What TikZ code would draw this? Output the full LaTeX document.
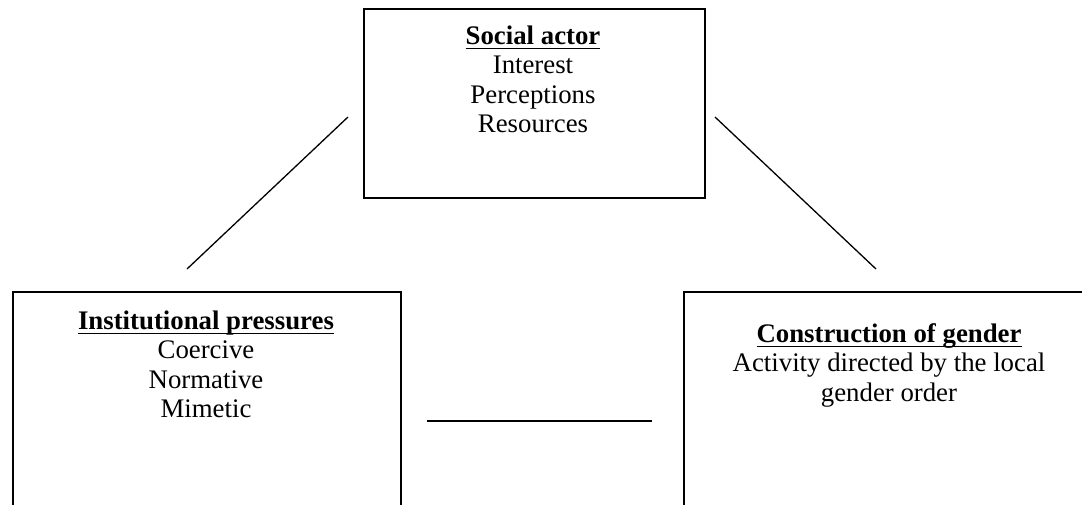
\documentclass[tikz,border=0pt]{standalone}
\usepackage{fontspec}
\setmainfont{Liberation Serif}
\newcommand*{\wMax}{1082}
\newcommand*{\hMax}{504}
\newsavebox{\headbox}
\newcommand*{\head}[1]{\sbox{\headbox}{\textbf{#1}}\smash{\usebox{\headbox}\llap{\rule[-2.5pt]{\wd\headbox}{.9pt}}}}

\begin{document}
\begin{tikzpicture}[x=.5pt,y=-.5pt,
	box/.style={draw,line width=.85pt,anchor=north west,inner sep=0pt},
	txt/.style={anchor=north,inner sep=0pt,align=center,font=\fontsize{13.4}{14.75}\selectfont},
	link/.style={line width=.65pt}]
	\clip (0,0) rectangle (\wMax,\hMax);

	% boxes
	\node[box,minimum width=170.5pt,minimum height=94.5pt] (actor) at (363,8) {};
	\node[box,minimum width=194pt,minimum height=130pt] (inst) at (12,291) {};
	\node[box,minimum width=206pt,minimum height=130pt] (gender) at (683,291) {};

	% texts
	\node[txt] (actortxt) at (533,44) {\head{Social actor}\\Interest\\Perceptions\\Resources};
	\node[txt] (insttxt) at (206,329) {\head{Institutional pressures}\\Coercive\\Normative\\Mimetic};
	\node[txt] (gendertxt) at (889,342) {\head{Construction of gender}\\Activity directed by the local\\gender order};

	% links
	\coordinate (la) at (348,117);
	\coordinate (lb) at (187,269);
	\coordinate (ra) at (715,117);
	\coordinate (rb) at (876,269);
	\coordinate (ma) at (427,421);
	\coordinate (mb) at (652,421);
	\draw[link] (la) -- (lb);
	\draw[link] (ra) -- (rb);
	\draw[link] (ma) -- (mb);
\end{tikzpicture}
\end{document}
